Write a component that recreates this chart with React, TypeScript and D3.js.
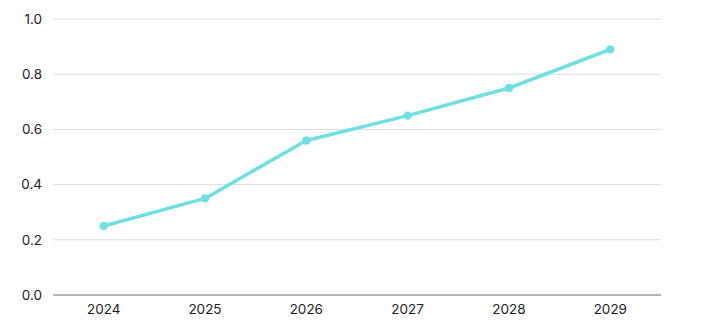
import React from "react";
import * as d3 from "d3";

const years = ["2024", "2025", "2026", "2027", "2028", "2029"];
const values = [0.25, 0.35, 0.56, 0.65, 0.75, 0.89];
const yTicks = [0, 0.2, 0.4, 0.6, 0.8, 1.0];

const W = 720;
const H = 323;
const left = 53;
const right = 661;
const top = 19;
const bottom = 295;
const color = "#6ee0e2";
const font = "Inter, 'Noto Sans', sans-serif";

export default function App() {
  const x = d3.scaleBand<string>().domain(years).range([left, right]);
  const y = d3.scaleLinear().domain([0, 1]).range([bottom, top]);
  const cx = (d: string) => (x(d) as number) + x.bandwidth() / 2;
  const line = d3
    .line<number>()
    .x((_, i) => cx(years[i]))
    .y((v) => y(v));

  return (
    <svg width={W} height={H} style={{ position: "absolute", left: 0, top: 0 }}>
      {yTicks.map((t) => (
        <g key={t}>
          <line
            x1={left}
            x2={right}
            y1={y(t)}
            y2={y(t)}
            stroke={t === 0 ? "#6b6b6b" : "#dcdcdc"}
            strokeWidth={1}
          />
          <text
            x={42}
            y={y(t)}
            dy="0.35em"
            textAnchor="end"
            fontFamily={font}
            fontSize={13.5}
            fill="#222"
          >
            {t.toFixed(1)}
          </text>
        </g>
      ))}
      {years.map((yr) => (
        <text
          key={yr}
          x={cx(yr)}
          y={314}
          textAnchor="middle"
          fontFamily={font}
          fontSize={13.5}
          fill="#222"
        >
          {yr}
        </text>
      ))}
      <path
        d={line(values) || ""}
        fill="none"
        stroke={color}
        strokeWidth={3.5}
        strokeLinejoin="round"
        strokeLinecap="round"
      />
      {values.map((v, i) => (
        <circle key={i} cx={cx(years[i])} cy={y(v)} r={4.2} fill={color} />
      ))}
    </svg>
  );
}
